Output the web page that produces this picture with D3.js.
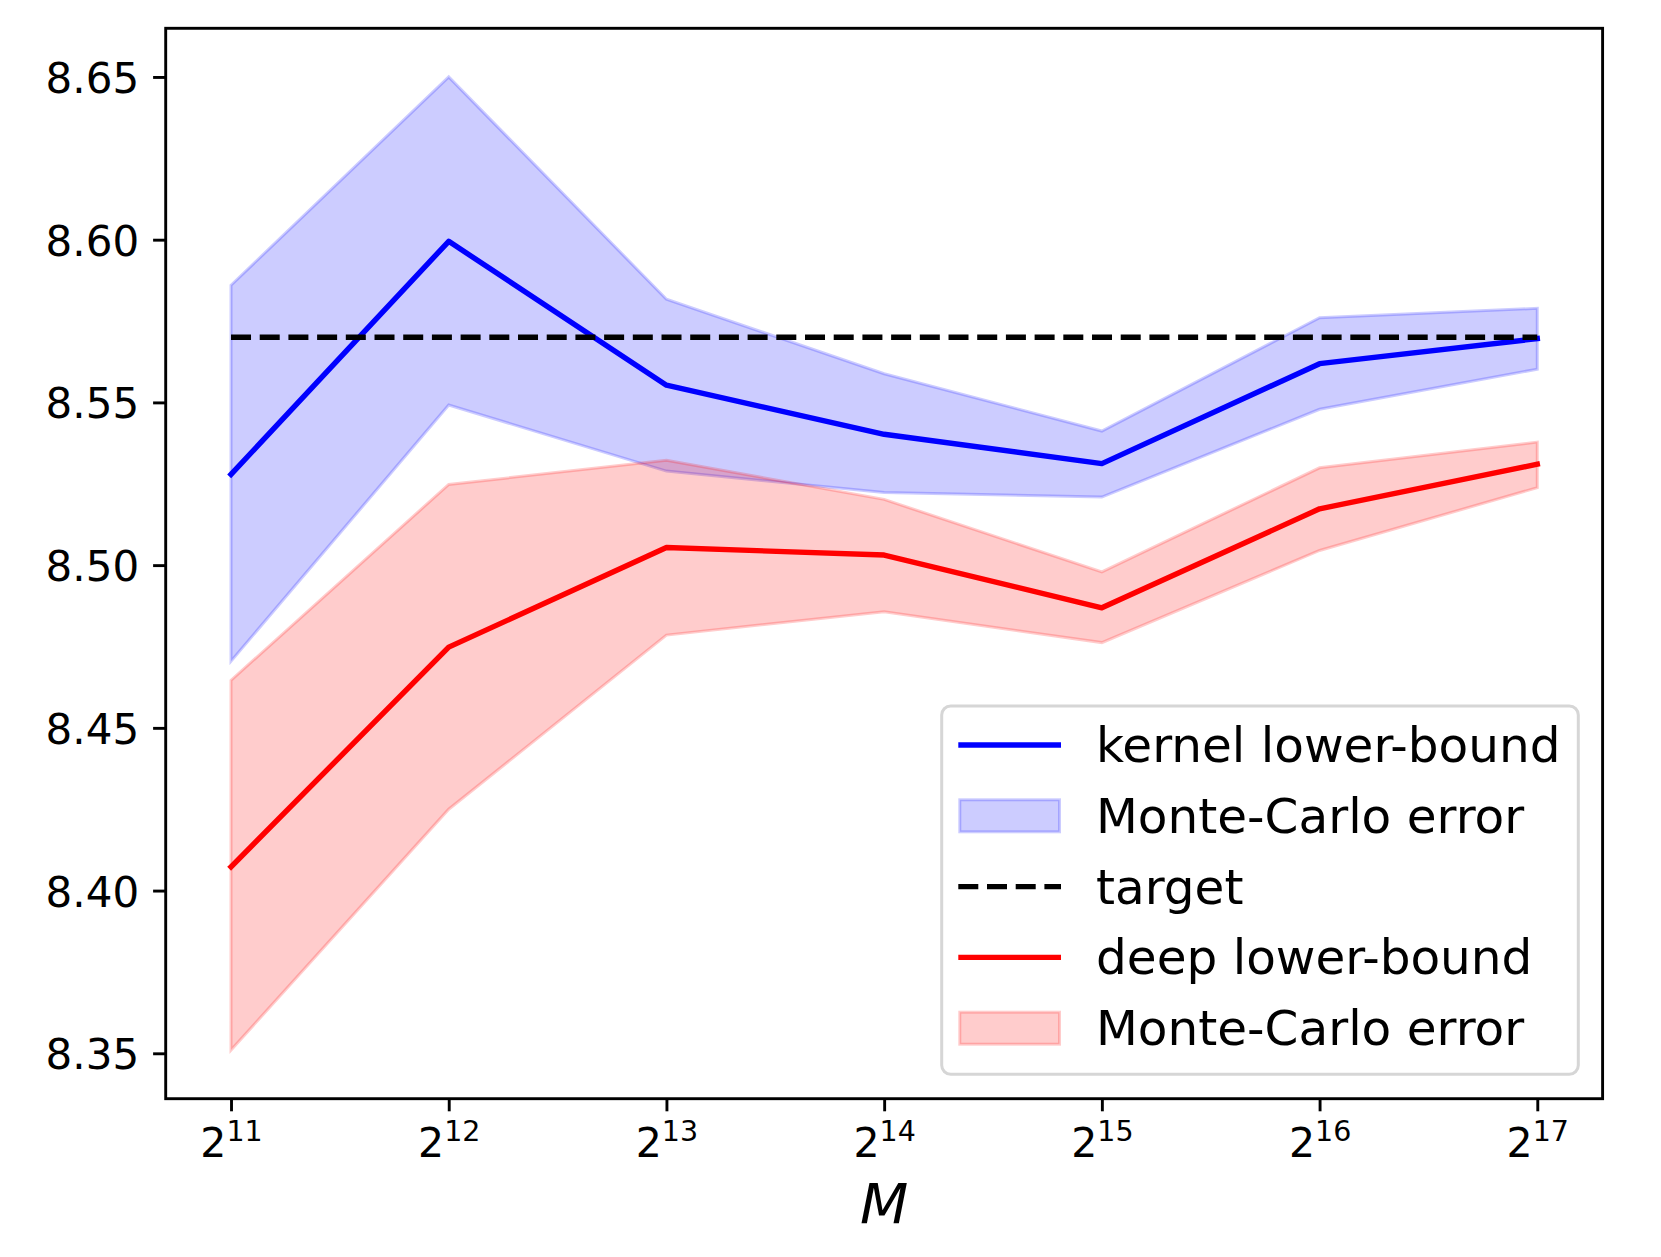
<!DOCTYPE html>
<html>
<head>
<meta charset="utf-8">
<script src="https://cdn.jsdelivr.net/npm/d3@7"></script>
<style>
  body { margin: 0; background: #fff; }
  text { font-family: 'DejaVu Sans', sans-serif; fill: #000; }
</style>
</head>
<body>
<svg id="chart" width="1661" height="1257"></svg>
<script>
var WIDTH = 1661
  , HEIGHT = 1257
  , LEFT = 165.7
  , RIGHT = 1602.6
  , TOP = 28.3
  , BOTTOM = 1098.7
  , LINE_W = 5.4

// x values are the exponents of M = 2^k
var exponents = [11, 12, 13, 14, 15, 16, 17]

var kernelMean = [8.5279, 8.5995, 8.5553, 8.5402, 8.5312, 8.5619, 8.5696]
  , kernelHigh = [8.5860, 8.6500, 8.5817, 8.5588, 8.5412, 8.5760, 8.5789]
  , kernelLow  = [8.4705, 8.5492, 8.5289, 8.5223, 8.5209, 8.5479, 8.5602]

var deepMean = [8.4073, 8.4748, 8.5054, 8.5031, 8.4869, 8.5173, 8.5310]
  , deepHigh = [8.4646, 8.5248, 8.5322, 8.5202, 8.4979, 8.5299, 8.5378]
  , deepLow  = [8.3510, 8.4250, 8.4785, 8.4857, 8.4762, 8.5045, 8.5238]

var targetValue = 8.57

var yTicks = [8.35, 8.40, 8.45, 8.50, 8.55, 8.60, 8.65]

var legendLabels = [
    'kernel lower-bound'
  , 'Monte-Carlo error'
  , 'target'
  , 'deep lower-bound'
  , 'Monte-Carlo error'
]

var svg = d3.select('#chart')

svg.append('rect')
  .attr('width', WIDTH)
  .attr('height', HEIGHT)
  .attr('fill', '#fff')

var x = d3.scaleLinear()
  .domain(pad(d3.extent(exponents)))
  .range([LEFT, RIGHT])

var allY = kernelHigh.concat(kernelLow, deepHigh, deepLow, [targetValue])

var y = d3.scaleLinear()
  .domain(pad(d3.extent(allY)))
  .range([BOTTOM, TOP])

drawBand(kernelLow, kernelHigh, '#0000ff')
drawBand(deepLow, deepHigh, '#ff0000')

drawLine(kernelMean, '#0000ff', null)
drawLine(exponents.map(function() { return targetValue }), '#000', '20,8.7')
drawLine(deepMean, '#ff0000', null)

drawAxes()
drawLegend()

function pad(ext) {
  var m = (ext[1] - ext[0]) * 0.05
  return [ext[0] - m, ext[1] + m]
}

function drawBand(low, high, color) {
  var area = d3.area()
    .x(function(d, i) { return x(exponents[i]) })
    .y0(function(d, i) { return y(low[i]) })
    .y1(function(d, i) { return y(high[i]) })

  svg.append('path')
    .datum(low)
    .attr('d', area)
    .attr('fill', color)
    .attr('fill-opacity', 0.2)
    .attr('stroke', color)
    .attr('stroke-opacity', 0.2)
    .attr('stroke-width', 3)
}

function drawLine(values, color, dash) {
  var line = d3.line()
    .x(function(d, i) { return x(exponents[i]) })
    .y(function(d) { return y(d) })

  var path = svg.append('path')
    .datum(values)
    .attr('d', line)
    .attr('fill', 'none')
    .attr('stroke', color)
    .attr('stroke-width', LINE_W)
    .attr('stroke-linejoin', 'round')
    .attr('stroke-linecap', dash ? 'butt' : 'square')

  if(dash) {
    path.attr('stroke-dasharray', dash)
  }
}

function drawAxes() {
  var yAxis = d3.axisLeft(y)
    .tickValues(yTicks)
    .tickFormat(d3.format('.2f'))
    .tickSize(12.6)
    .tickSizeOuter(0)
    .tickPadding(14)

  var gy = svg.append('g')
    .attr('transform', 'translate(' + LEFT + ',0)')
    .call(yAxis)

  gy.select('.domain').remove()
  gy.selectAll('line').attr('stroke-width', 2.9)
  gy.selectAll('text')
    .attr('font-size', '42px')
    .attr('font-family', 'DejaVu Sans')
    .attr('dy', '0.37em')

  var xAxis = d3.axisBottom(x)
    .tickValues(exponents)
    .tickFormat('')
    .tickSize(12.6)
    .tickSizeOuter(0)

  var gx = svg.append('g')
    .attr('transform', 'translate(0,' + BOTTOM + ')')
    .call(xAxis)

  gx.select('.domain').remove()
  gx.selectAll('line').attr('stroke-width', 2.9)

  var label = gx.selectAll('.tick text')
    .attr('y', 58.6)
    .attr('dy', null)
    .attr('font-size', '41px')
    .attr('font-family', 'DejaVu Sans')

  label.append('tspan').text('2')
  label.append('tspan')
    .attr('dy', -15.8)
    .attr('font-size', '28.5px')
    .text(function(d) { return d })

  // frame
  svg.append('rect')
    .attr('x', LEFT)
    .attr('y', TOP)
    .attr('width', RIGHT - LEFT)
    .attr('height', BOTTOM - TOP)
    .attr('fill', 'none')
    .attr('stroke', '#000')
    .attr('stroke-width', 2.9)

  svg.append('text')
    .attr('x', (LEFT + RIGHT) / 2)
    .attr('y', 1222.7)
    .attr('text-anchor', 'middle')
    .attr('font-size', '56px')
    .attr('font-style', 'italic')
    .text('M')
}

function drawLegend() {
  var box = {x: 941.7, y: 706, w: 636.6, h: 368.3}
    , rowTop = 745
    , rowStep = 70.8
    , handleX0 = 958.3
    , handleX1 = 1061
    , textX = 1096

  var g = svg.append('g').attr('class', 'legend')

  g.append('rect')
    .attr('x', box.x)
    .attr('y', box.y)
    .attr('width', box.w)
    .attr('height', box.h)
    .attr('rx', 9)
    .attr('fill', '#fff')
    .attr('fill-opacity', 0.8)
    .attr('stroke', '#d6d6d6')
    .attr('stroke-width', 3)

  var handles = [
      {type: 'line', color: '#0000ff'}
    , {type: 'patch', color: '#0000ff'}
    , {type: 'dash', color: '#000'}
    , {type: 'line', color: '#ff0000'}
    , {type: 'patch', color: '#ff0000'}
  ]

  handles.forEach(function(h, i) {
    var cy = rowTop + i * rowStep

    if(h.type === 'patch') {
      g.append('rect')
        .attr('x', handleX0 + 1.5)
        .attr('y', cy - 16)
        .attr('width', handleX1 - handleX0 - 3)
        .attr('height', 32)
        .attr('fill', h.color)
        .attr('fill-opacity', 0.2)
        .attr('stroke', h.color)
        .attr('stroke-opacity', 0.2)
        .attr('stroke-width', 3)
    } else {
      var ln = g.append('line')
        .attr('x1', handleX0)
        .attr('x2', handleX1)
        .attr('y1', cy)
        .attr('y2', cy)
        .attr('stroke', h.color)
        .attr('stroke-width', LINE_W)

      if(h.type === 'dash') {
        ln.attr('stroke-dasharray', '20,8.7')
      }
    }

    g.append('text')
      .attr('x', textX)
      .attr('y', cy + 17)
      .attr('font-size', '48.5px')
      .text(legendLabels[i])
  })
}
</script>
</body>
</html>
